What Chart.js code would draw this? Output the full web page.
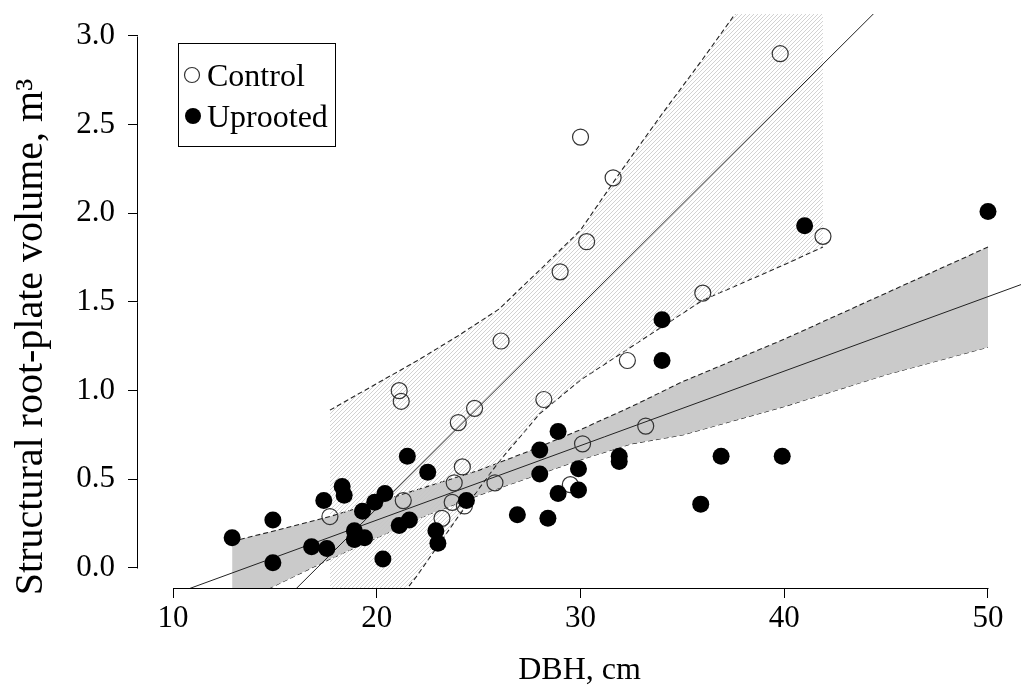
<!DOCTYPE html>
<html lang="en">
<head>
  <meta charset="UTF-8">
  <title>Structural root-plate volume vs DBH</title>
  <style>
    body { margin: 0; background: #fff; }
    canvas { display: block; }
  </style>
</head>
<body>
  <canvas id="rootPlate" width="1021" height="693"></canvas>

  <script src="https://cdn.jsdelivr.net/npm/chart.js"></script>
  <script>
    // Control trees (open circles)
    const controlDbh = [39.8, 30.0, 31.6, 30.3, 41.9, 29.0, 36.0, 26.1, 32.3, 21.1, 21.2, 24.8, 24.0,
                        28.2, 33.2, 30.1, 24.2, 25.8, 23.8, 29.5, 21.3, 17.7, 23.2, 23.7, 24.3];
    const controlVol = [2.90, 2.43, 2.20, 1.84, 1.87, 1.67, 1.55, 1.28, 1.17, 1.00, 0.94, 0.90, 0.82,
                        0.95, 0.80, 0.70, 0.57, 0.48, 0.48, 0.47, 0.38, 0.29, 0.28, 0.37, 0.35];

    // Uprooted trees (filled circles)
    const uprootedDbh = [12.9, 14.9, 14.9, 16.8, 17.55, 17.4, 18.3, 18.4, 18.9, 18.9, 19.4, 19.3, 19.9,
                         20.4, 20.3, 21.1, 21.6, 21.5, 22.5, 22.9, 23.0, 24.4, 26.9, 28.4, 28.0, 28.0,
                         28.9, 28.9, 29.9, 29.9, 31.9, 31.9, 34.0, 34.0, 35.9, 36.9, 39.9, 41.0, 50.0];
    const uprootedVol = [0.17, 0.27, 0.03, 0.12, 0.11, 0.38, 0.46, 0.41, 0.21, 0.16, 0.17, 0.32, 0.37,
                         0.42, 0.05, 0.24, 0.27, 0.63, 0.54, 0.21, 0.14, 0.38, 0.30, 0.28, 0.665, 0.53,
                         0.77, 0.42, 0.56, 0.44, 0.63, 0.60, 1.40, 1.17, 0.36, 0.63, 0.63, 1.93, 2.01];

    // regression lines: [intercept, slope]
    const controlFit = [-1.952, 0.1144];
    const uprootedFit = [-0.570, 0.042];

    // confidence bands
    const controlBandDbh   = [17.7, 20, 22, 24, 26, 28, 30, 32, 34, 36, 38, 40, 41.9];
    const controlBandUpper = [0.89, 1.04, 1.17, 1.31, 1.46, 1.68, 1.905, 2.24, 2.56, 2.87, 3.19, 3.50, 3.80];
    const controlBandLower = [-0.67, -0.34, -0.04, 0.29, 0.60, 0.87, 1.06, 1.21, 1.36, 1.51, 1.61, 1.71, 1.81];

    const uprootedBandDbh   = [12.9, 15, 17.7, 20, 22.5, 25, 27.5, 30, 32.5, 35, 40, 45, 50];
    const uprootedBandUpper = [0.15, 0.21, 0.29, 0.37, 0.46, 0.55, 0.66, 0.78, 0.91, 1.05, 1.29, 1.55, 1.81];
    const uprootedBandLower = [-0.21, -0.10, 0.05, 0.17, 0.30, 0.41, 0.51, 0.61, 0.70, 0.75, 0.91, 1.09, 1.245];

    const xTicks = [10, 20, 30, 40, 50];
    const yTicks = [0, 0.5, 1.0, 1.5, 2.0, 2.5, 3.0];
    const xRange = [8.28, 51.62];
    const yRange = [-0.113, 3.124];

    const xTitle = 'DBH, cm';
    const yTitle = 'Structural root-plate volume, m\u00B3';
    const seriesNames = ['Control', 'Uprooted'];

    const SERIF = '"Liberation Serif", "Times New Roman", serif';
    Chart.defaults.font.family = SERIF;
    Chart.defaults.color = '#000';

    const toPoints = (xs, ys) => xs.map((x, i) => ({ x: x, y: ys[i] }));
    const fitLine = (fit) => xRange.map(x => ({ x: x, y: fit[0] + fit[1] * x }));

    // diagonal hatching for the control band
    function hatchPattern() {
      const c = document.createElement('canvas');
      c.width = 4; c.height = 4;
      const g = c.getContext('2d');
      g.strokeStyle = '#c6c6c6';
      g.lineWidth = 0.8;
      g.beginPath();
      g.moveTo(0, 4); g.lineTo(4, 0);
      g.moveTo(-1, 1); g.lineTo(1, -1);
      g.moveTo(3, 5); g.lineTo(5, 3);
      g.stroke();
      return g.createPattern(c, 'repeat');
    }

    const dashed = { borderColor: '#222', borderWidth: 1.1, borderDash: [5, 3], pointRadius: 0, showLine: true };
    const solid = { borderColor: '#222', borderWidth: 1, pointRadius: 0, showLine: true, fill: false };

    // R-style detached axes, boxed legend, rotated y title
    const rStyle = {
      id: 'rStyle',
      afterDraw(chart) {
        const { ctx, scales: { x, y } } = chart;
        ctx.save();
        ctx.strokeStyle = '#000';
        ctx.lineWidth = 1;
        ctx.beginPath();
        const ax = Math.round(x.left) - 0.5;
        ctx.moveTo(ax, Math.round(y.getPixelForValue(yTicks[0])) + 0.5);
        ctx.lineTo(ax, Math.round(y.getPixelForValue(yTicks[yTicks.length - 1])) + 0.5);
        const ay = Math.round(y.bottom) + 0.5;
        ctx.moveTo(Math.round(x.getPixelForValue(xTicks[0])) + 0.5, ay);
        ctx.lineTo(Math.round(x.getPixelForValue(xTicks[xTicks.length - 1])) + 0.5, ay);
        ctx.stroke();

        // legend
        ctx.strokeRect(178.5, 43.5, 157, 103);
        ctx.beginPath();
        ctx.arc(192, 75, 7.5, 0, Math.PI * 2);
        ctx.strokeStyle = '#333';
        ctx.lineWidth = 1.2;
        ctx.stroke();
        ctx.beginPath();
        ctx.arc(193, 116, 8, 0, Math.PI * 2);
        ctx.fillStyle = '#000';
        ctx.fill();
        ctx.font = '32px ' + SERIF;
        ctx.textBaseline = 'alphabetic';
        ctx.textAlign = 'left';
        ctx.fillText(seriesNames[0], 207, 86);
        ctx.fillText(seriesNames[1], 207, 127);

        // y axis title
        ctx.translate(42, 337);
        ctx.rotate(-Math.PI / 2);
        ctx.textAlign = 'center';
        ctx.font = '40px ' + SERIF;
        ctx.fillText(yTitle, 0, 0);
        ctx.restore();
      }
    };

    new Chart(document.getElementById('rootPlate'), {
      type: 'scatter',
      data: {
        datasets: [
          {
            label: seriesNames[1],
            data: toPoints(uprootedDbh, uprootedVol),
            pointRadius: 8.5,
            pointBackgroundColor: '#000',
            pointBorderColor: '#000',
            pointBorderWidth: 0
          },
          {
            label: seriesNames[0],
            data: toPoints(controlDbh, controlVol),
            pointRadius: 8,
            pointBackgroundColor: 'rgba(0,0,0,0)',
            pointBorderColor: '#333',
            pointBorderWidth: 1.2
          },
          Object.assign({ data: fitLine(controlFit) }, solid),
          Object.assign({ data: fitLine(uprootedFit) }, solid),
          Object.assign({ data: toPoints(controlBandDbh, controlBandUpper), fill: '+1', backgroundColor: hatchPattern() }, dashed),
          Object.assign({ data: toPoints(controlBandDbh, controlBandLower), fill: false }, dashed),
          Object.assign({ data: toPoints(uprootedBandDbh, uprootedBandUpper), fill: '+1', backgroundColor: '#cacaca' }, dashed),
          Object.assign({ data: toPoints(uprootedBandDbh, uprootedBandLower), fill: false }, dashed)
        ]
      },
      options: {
        responsive: false,
        devicePixelRatio: 1,
        animation: false,
        layout: { autoPadding: false, padding: { top: 14, right: 0, bottom: 0, left: 0 } },
        plugins: {
          legend: { display: false },
          tooltip: { enabled: false }
        },
        scales: {
          x: {
            type: 'linear',
            min: xRange[0],
            max: xRange[1],
            afterBuildTicks: s => { s.ticks = xTicks.map(v => ({ value: v })); },
            afterFit: s => { s.height = 105; s.paddingLeft = 0; s.paddingRight = 0; },
            border: { display: false },
            grid: { drawOnChartArea: false, drawTicks: true, tickLength: 10, color: '#000' },
            ticks: { font: { size: 31 }, padding: 2, maxRotation: 0, callback: v => String(v) },
            title: { display: true, text: xTitle, font: { size: 32 }, padding: { top: 0, bottom: 3 } }
          },
          y: {
            type: 'linear',
            min: yRange[0],
            max: yRange[1],
            afterBuildTicks: s => { s.ticks = yTicks.map(v => ({ value: v })); },
            afterFit: s => { s.width = 138; s.paddingTop = 0; s.paddingBottom = 0; },
            border: { display: false },
            grid: { drawOnChartArea: false, drawTicks: true, tickLength: 10, color: '#000' },
            ticks: { font: { size: 31 }, padding: 13, callback: v => v.toFixed(1) }
          }
        }
      },
      plugins: [rStyle]
    });
  </script>
</body>
</html>
